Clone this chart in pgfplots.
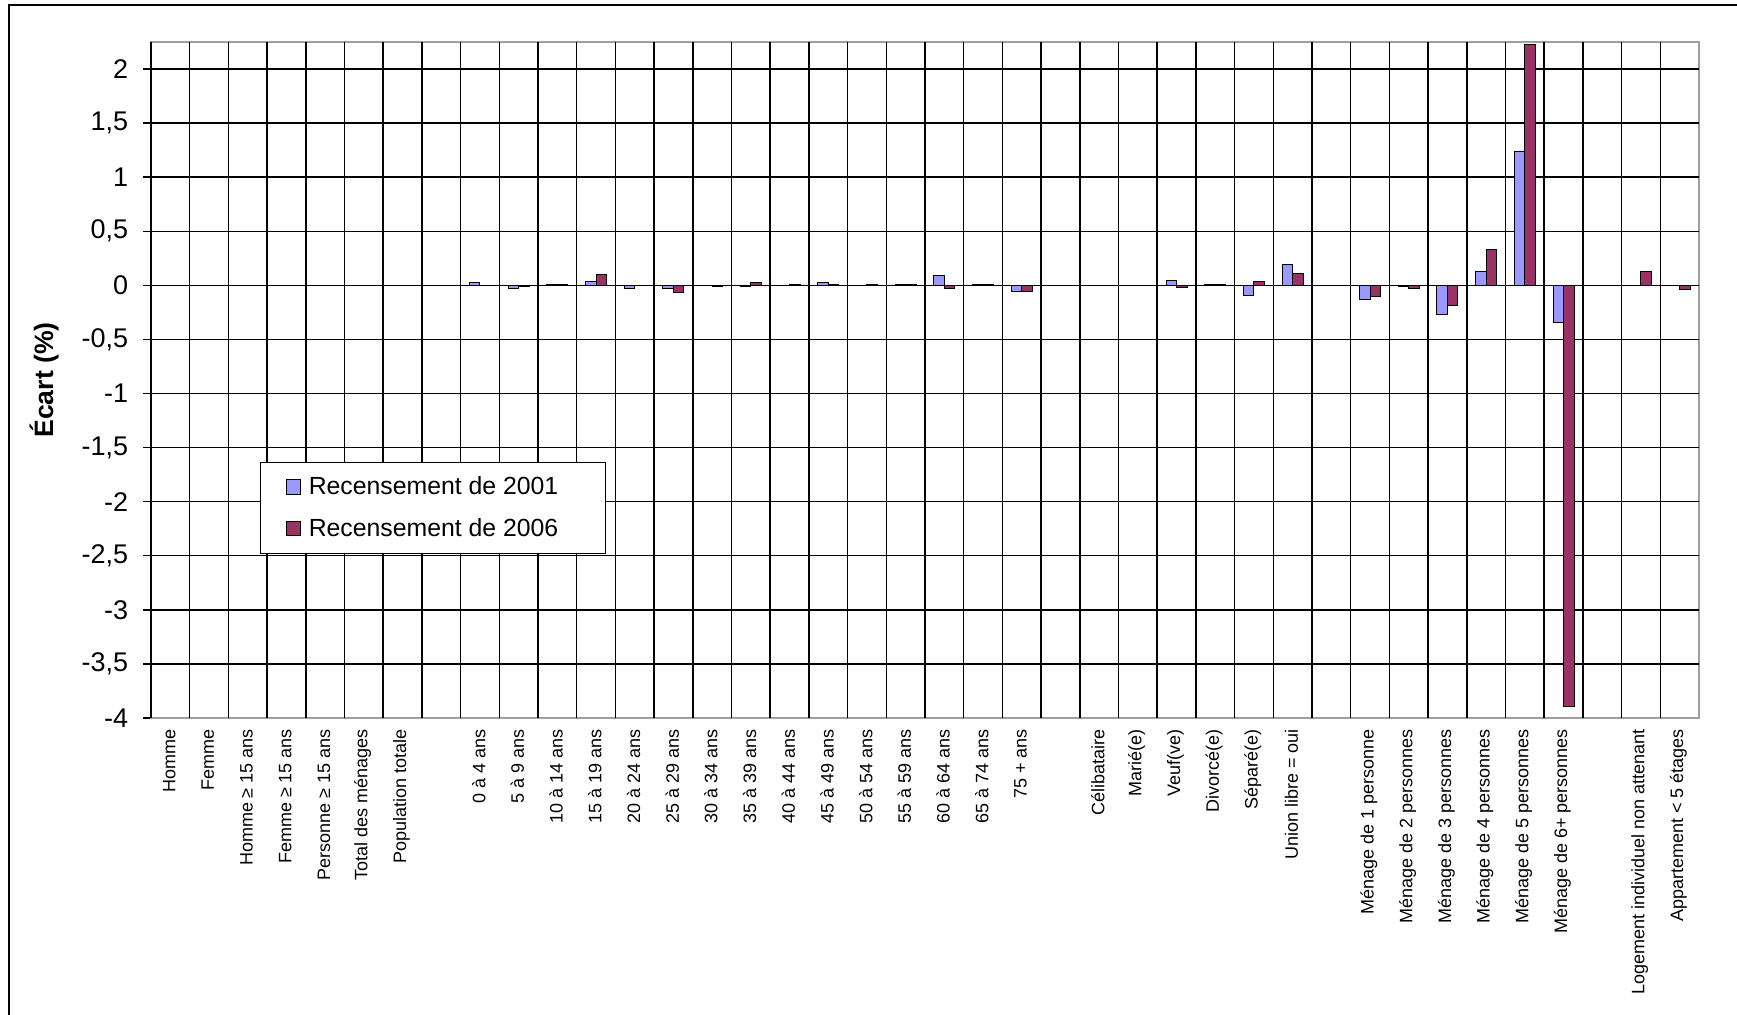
\documentclass[border=0pt]{standalone}
\usepackage{fontspec}
\setmainfont{Liberation Sans}
\usepackage{pgfplots}
\pgfplotsset{compat=1.18}

\definecolor{rec2001}{HTML}{9999FF}
\definecolor{rec2006}{HTML}{993366}
\definecolor{plotframe}{HTML}{A0A0A0}

% square legend swatch
\pgfplotsset{square legend/.style={
  legend image code/.code={\draw[##1, line width=0.5pt] (0pt,-3.6pt) rectangle (7.2pt,3.6pt);}}}

\begin{document}
\begin{tikzpicture}
\useasboundingbox (0,0) rectangle (868.5pt,507.5pt);
% chart area border
\draw[line width=1pt] (4.45pt,0) -- (4.45pt,504.75pt) -- (868.5pt,504.75pt);
\begin{axis}[
  at={(75.5pt,148.5pt)}, anchor=south west,
  scale only axis, width=774pt, height=338pt,
  xmin=-0.5, xmax=39.5, ymin=-4, ymax=2.25,
  ybar=0pt, bar width=5.25pt,
  axis line style={draw=plotframe, line width=0.75pt},
  tick align=outside,
  xtick pos=bottom, ytick pos=left,
  major tick length=4pt,
  tick style={black, line width=0.75pt},
  xtick={0,...,39},
  xticklabels={
    Homme, Femme, Homme ≥ 15 ans, Femme ≥ 15 ans, Personne ≥ 15 ans,
    Total des ménages, Population totale, {},
    0 à 4 ans, 5 à 9 ans, 10 à 14 ans, 15 à 19 ans, 20 à 24 ans,
    25 à 29 ans, 30 à 34 ans, 35 à 39 ans, 40 à 44 ans, 45 à 49 ans,
    50 à 54 ans, 55 à 59 ans, 60 à 64 ans, 65 à 74 ans, 75 + ans, {},
    Célibataire, Marié(e), Veuf(ve), Divorcé(e), Séparé(e), Union libre = oui, {},
    Ménage de 1 personne, Ménage de 2 personnes, Ménage de 3 personnes,
    Ménage de 4 personnes, Ménage de 5 personnes, Ménage de 6+ personnes, {},
    Logement individuel non attenant, Appartement < 5 étages},
  x tick label style={rotate=90, anchor=east, font=\fontsize{9}{10}\selectfont, xshift=2pt, yshift=0.6pt},
  major x tick style={draw=none},
  extra x ticks={-0.5,0.5,...,38.5},
  extra x tick labels={},
  extra x tick style={grid=major, major tick length=0pt},
  ytick={-4,-3.5,...,2},
  yticklabels={{-4},{-3,5},{-3},{-2,5},{-2},{-1,5},{-1},{-0,5},{0},{0,5},{1},{1,5},{2}},
  y tick label style={font=\fontsize{13.5}{15}\selectfont, xshift=-3.9pt},
  extra y ticks={-3.5,-3,...,2},
  extra y tick labels={},
  extra y tick style={grid=major, major tick length=0pt},
  grid style={black, line width=0.75pt},
  ylabel={Écart (\%)},
  ylabel style={font=\bfseries\fontsize{13.3}{15}\selectfont,
    at={(axis description cs:-0.0691,0.5)}, anchor=center},
  legend cell align=left,
  legend style={at={(axis description cs:0.0704,0.3787)}, anchor=north west,
    draw=black, line width=0.6pt, fill=white,
    font=\fontsize{12.4}{14}\selectfont,
    inner xsep=12.5pt, inner ysep=7pt, row sep=10.3pt,
    nodes={inner sep=0pt}},
]
\addplot[fill=rec2001, draw=black, line width=0.5pt, square legend]
  coordinates {
    (8,0.03) (9,-0.03) (10,0.01) (11,0.04) (12,-0.03) (13,-0.03)
    (15,-0.01) (17,0.03) (19,0.01) (20,0.09) (21,0.01) (22,-0.06)
    (26,0.045) (27,0.01) (28,-0.09) (29,0.19)
    (31,-0.13) (32,-0.01) (33,-0.27) (34,0.13) (35,1.24) (36,-0.34)
  };
\addlegendentry{\hspace*{3.9pt}Recensement de 2001\hspace*{11pt}}
\addplot[fill=rec2006, draw=black, line width=0.5pt, square legend]
  coordinates {
    (9,-0.01) (10,0.01) (11,0.10) (13,-0.07) (14,-0.01) (15,0.03)
    (16,0.01) (17,0.01) (18,0.01) (19,0.01) (20,-0.03) (21,0.01) (22,-0.06)
    (26,-0.02) (27,0.01) (28,0.04) (29,0.11)
    (31,-0.10) (32,-0.03) (33,-0.19) (34,0.33) (35,2.23) (36,-3.89)
    (38,0.13) (39,-0.04)
  };
\addlegendentry{\hspace*{3.9pt}Recensement de 2006\hspace*{11pt}}
% y axis line in black over the grey frame
\draw[black, line width=0.75pt] (axis cs:-0.5,-4) -- (axis cs:-0.5,2.25);
\end{axis}
\end{tikzpicture}
\end{document}
